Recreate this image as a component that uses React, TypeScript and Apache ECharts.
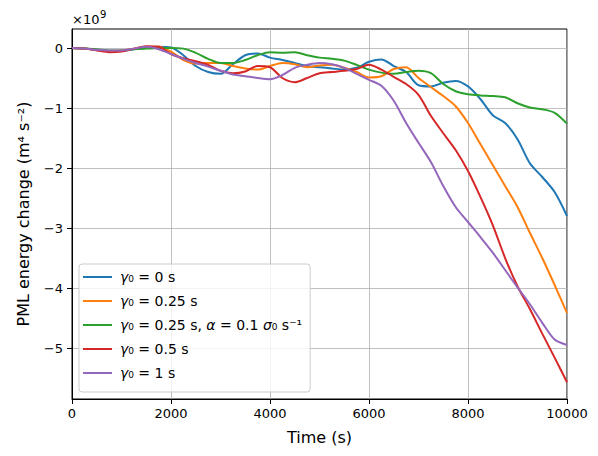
import React, { useEffect, useRef } from "react";
import * as echarts from "echarts";

const times: number[] = [];
for (let t = 0; t <= 10000; t += 250) times.push(t);

const seriesNames = ["g0", "g025", "g025a", "g05", "g1"];
const colors = ["#1f77b4", "#ff7f0e", "#2ca02c", "#d62728", "#9467bd"];

const blue = [0, -0.01, -0.03, -0.05, -0.05, -0.02, 0.0, 0.02, 0.01, -0.12, -0.3, -0.4, -0.43, -0.27, -0.12, -0.09, -0.16, -0.2, -0.25, -0.3, -0.32, -0.34, -0.36, -0.33, -0.23, -0.19, -0.3, -0.4, -0.62, -0.64, -0.58, -0.55, -0.64, -0.85, -1.12, -1.25, -1.52, -1.92, -2.15, -2.4, -2.8];
const orange = [0, -0.01, -0.03, -0.05, -0.04, -0.01, 0.02, 0.02, -0.06, -0.2, -0.26, -0.25, -0.25, -0.3, -0.34, -0.36, -0.3, -0.25, -0.27, -0.32, -0.29, -0.28, -0.33, -0.4, -0.49, -0.47, -0.35, -0.32, -0.5, -0.65, -0.8, -0.97, -1.25, -1.6, -1.95, -2.3, -2.65, -3.08, -3.5, -3.95, -4.42];
const green = [0, -0.01, -0.02, -0.04, -0.04, -0.02, -0.01, 0.0, 0.0, -0.01, -0.08, -0.18, -0.25, -0.25, -0.2, -0.12, -0.07, -0.08, -0.07, -0.12, -0.16, -0.18, -0.21, -0.28, -0.36, -0.41, -0.43, -0.4, -0.38, -0.42, -0.6, -0.72, -0.77, -0.79, -0.8, -0.82, -0.92, -0.99, -1.02, -1.08, -1.26];
const red = [0, -0.01, -0.04, -0.07, -0.06, -0.01, 0.03, 0.02, -0.1, -0.17, -0.22, -0.28, -0.38, -0.42, -0.39, -0.3, -0.32, -0.5, -0.57, -0.5, -0.42, -0.4, -0.38, -0.35, -0.28, -0.36, -0.48, -0.6, -0.78, -1.13, -1.42, -1.7, -2.05, -2.48, -2.95, -3.5, -3.97, -4.35, -4.76, -5.16, -5.57];
const purple = [0, -0.01, -0.03, -0.04, -0.04, -0.01, 0.02, -0.02, -0.1, -0.18, -0.25, -0.31, -0.38, -0.44, -0.47, -0.5, -0.52, -0.45, -0.33, -0.28, -0.25, -0.27, -0.33, -0.43, -0.53, -0.63, -0.88, -1.25, -1.58, -1.9, -2.3, -2.65, -2.9, -3.15, -3.41, -3.7, -3.99, -4.27, -4.58, -4.86, -4.95];

const seriesValues = [blue, orange, green, red, purple];

const legendLabels = [
  "{i|γ}₀ = 0 s",
  "{i|γ}₀ = 0.25 s",
  "{i|γ}₀ = 0.25 s, {i|α} = 0.1 {i|σ}₀ s⁻¹",
  "{i|γ}₀ = 0.5 s",
  "{i|γ}₀ = 1 s",
];

const yTicks = [-5, -4, -3, -2, -1, 0];

const FONT = "DejaVu Sans";

export default function App() {
  const ref = useRef<HTMLDivElement>(null);
  useEffect(() => {
    if (!ref.current) return;
    const chart = echarts.init(ref.current, undefined, { renderer: "svg" });
    const fmt = (v: number) => (v < 0 ? "\u2212" + Math.abs(v) : String(v));
    chart.setOption({
      animation: false,
      textStyle: { fontFamily: FONT },
      grid: {
        left: 72,
        right: 31,
        top: 29,
        bottom: 57,
        show: true,
        borderColor: "#000",
        borderWidth: 1,
        backgroundColor: "transparent",
      },
      xAxis: {
        type: "value",
        min: 0,
        max: 10000,
        interval: 2000,
        name: "Time (s)",
        nameLocation: "middle",
        nameGap: 30,
        nameTextStyle: { fontSize: 16, color: "#000", fontFamily: FONT },
        axisLine: { show: true, onZero: false, lineStyle: { color: "#000", width: 1 } },
        axisTick: { show: true, length: 5, lineStyle: { color: "#000" } },
        axisLabel: { color: "#000", fontSize: 13, margin: 8, fontFamily: FONT, formatter: (v: number) => String(v) },
        splitLine: { show: true, lineStyle: { color: "#b0b0b0", width: 0.8 } },
      },
      yAxis: {
        type: "value",
        min: -5.85,
        max: 0.317,
        name: "PML energy change (m⁴ s⁻²)",
        nameLocation: "middle",
        nameGap: 41,
        nameTextStyle: { fontSize: 16, color: "#000", fontFamily: FONT },
        axisLine: { show: true, onZero: false, lineStyle: { color: "#000", width: 1 } },
        axisTick: { show: true, length: 5, customValues: yTicks, lineStyle: { color: "#000" } },
        axisLabel: { color: "#000", fontSize: 13, margin: 9, customValues: yTicks, fontFamily: FONT, formatter: fmt },
        splitLine: { show: true, lineStyle: { color: "#b0b0b0", width: 0.8 } },
      },
      legend: {
        orient: "vertical",
        left: 79,
        top: 264,
        icon: "rect",
        itemWidth: 29,
        itemHeight: 2,
        itemGap: 10,
        padding: [6, 8, 12, 4],
        backgroundColor: "rgba(255,255,255,0.8)",
        borderColor: "#cccccc",
        borderWidth: 1,
        borderRadius: 3,
        data: seriesNames,
        formatter: (name: string) => legendLabels[seriesNames.indexOf(name)],
        textStyle: {
          color: "#000",
          fontSize: 14,
          fontFamily: FONT,
          padding: [0, 0, 0, 3],
          rich: { i: { fontStyle: "italic", fontSize: 14, fontFamily: FONT, color: "#000" } },
        },
      },
      graphic: [
        {
          type: "text",
          left: 72,
          top: 13,
          style: { text: "×10", fontSize: 13, fontFamily: FONT, fill: "#000" },
        },
        {
          type: "text",
          left: 100,
          top: 9,
          style: { text: "9", fontSize: 10, fontFamily: FONT, fill: "#000" },
        },
      ],
      series: seriesNames.map((n, i) => ({
        name: n,
        type: "line",
        showSymbol: false,
        smooth: 0.3,
        color: colors[i],
        lineStyle: { width: 2, color: colors[i] },
        data: times.map((t, k) => [t, seriesValues[i][k]]),
      })),
    });
    return () => chart.dispose();
  }, []);
  return <div ref={ref} style={{ width: 598, height: 456, position: "absolute", left: 0, top: 0 }} />;
}
